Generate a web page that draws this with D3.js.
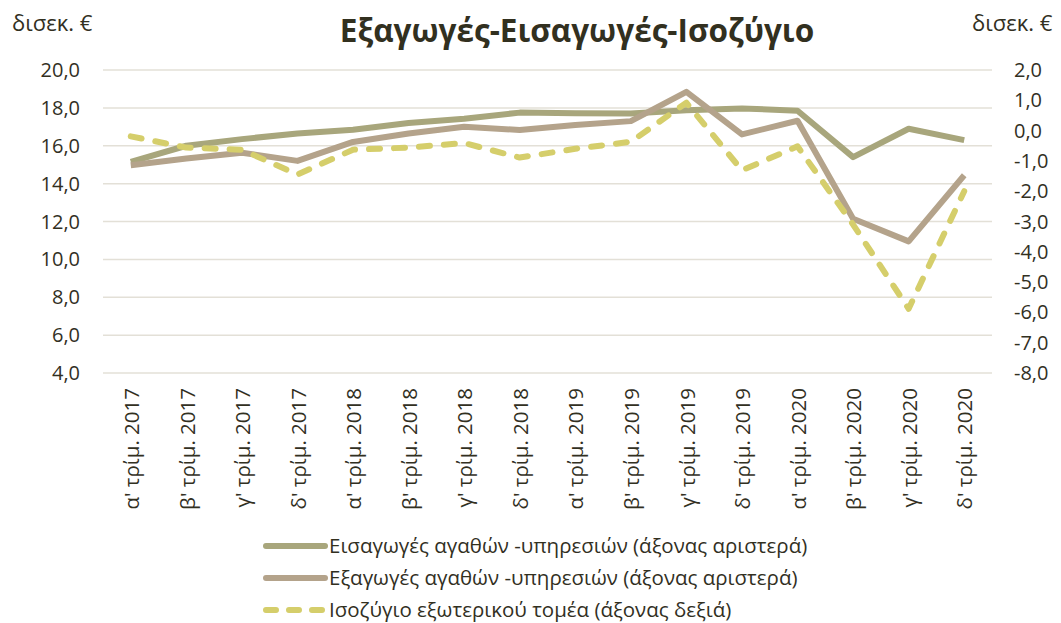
<!DOCTYPE html>
<meta charset="utf-8">
<style>
body { margin: 0; background: #fff; }
text { font-family: "Open Sans", "Noto Sans", sans-serif; fill: #32301f; }
.grid line { stroke: #e3e0d7; stroke-width: 1.5px; }
.line { fill: none; stroke-width: 6px; stroke-linejoin: round; }
</style>
<svg width="1061" height="623"></svg>
<script src="https://cdn.jsdelivr.net/npm/d3@7"></script>
<script>
// data
var quarters = ["α' τρίμ. 2017","β' τρίμ. 2017","γ' τρίμ. 2017","δ' τρίμ. 2017",
  "α' τρίμ. 2018","β' τρίμ. 2018","γ' τρίμ. 2018","δ' τρίμ. 2018",
  "α' τρίμ. 2019","β' τρίμ. 2019","γ' τρίμ. 2019","δ' τρίμ. 2019",
  "α' τρίμ. 2020","β' τρίμ. 2020","γ' τρίμ. 2020","δ' τρίμ. 2020"];
var imports = [15.15, 16.0, 16.35, 16.65, 16.85, 17.2, 17.43, 17.75, 17.72, 17.7, 17.88, 17.97, 17.85, 15.4, 16.9, 16.3];
var exports = [14.97, 15.33, 15.63, 15.2, 16.2, 16.65, 17.0, 16.83, 17.1, 17.3, 18.85, 16.6, 17.32, 12.15, 10.95, 14.44];
var balance = [-0.19, -0.56, -0.63, -1.45, -0.63, -0.56, -0.41, -0.89, -0.6, -0.37, 0.92, -1.31, -0.52, -3.1, -5.88, -2.0];
var leftTicks = [4, 6, 8, 10, 12, 14, 16, 18, 20];
var rightTicks = [-8, -7, -6, -5, -4, -3, -2, -1, 0, 1, 2];
var seriesNames = ["Εισαγωγές αγαθών -υπηρεσιών (άξονας αριστερά)",
  "Εξαγωγές αγαθών -υπηρεσιών (άξονας αριστερά)",
  "Ισοζύγιο εξωτερικού τομέα (άξονας δεξιά)"];
var colors = ["#a8a67c", "#b4a38b", "#d5ce6b"];

var svg = d3.select("svg"),
    plotL = 103, plotR = 992, plotT = 70, plotB = 373;

var x = d3.scaleBand().domain(quarters).range([plotL, plotR]),
    yL = d3.scaleLinear().domain([4, 20]).range([plotB, plotT]),
    yR = d3.scaleLinear().domain([-8, 2]).range([plotB, plotT]);

var fmt = function(v) { return d3.format(".1f")(v).replace(".", ",").replace("−", "-"); };

// grid
svg.append("g").attr("class", "grid")
  .selectAll("line").data(leftTicks).enter().append("line")
    .attr("x1", plotL).attr("x2", plotR)
    .attr("y1", function(d) { return yL(d); })
    .attr("y2", function(d) { return yL(d); });

// left axis labels
svg.append("g").selectAll("text").data(leftTicks).enter().append("text")
  .attr("x", 80).attr("y", function(d) { return yL(d); })
  .attr("dy", "0.35em").attr("text-anchor", "end")
  .style("font-size", "20px")
  .text(fmt);

// right axis labels
svg.append("g").selectAll("text").data(rightTicks).enter().append("text")
  .attr("x", 1014).attr("y", function(d) { return yR(d); })
  .attr("dy", "0.35em").attr("text-anchor", "start")
  .style("font-size", "20px")
  .text(fmt);

// x labels
svg.append("g").selectAll("text").data(quarters).enter().append("text")
  .attr("transform", function(d) { return "translate(" + (x(d) + x.bandwidth() / 2 + 1) + ",388) rotate(-90)"; })
  .attr("dy", "0.35em").attr("text-anchor", "end")
  .style("font-size", "20.5px")
  .text(function(d) { return d; });

// units + title
svg.append("text").attr("x", 12).attr("y", 31).style("font-size", "22px").text("δισεκ. €");
svg.append("text").attr("x", 972).attr("y", 31).style("font-size", "22px").text("δισεκ. €");
svg.append("text").attr("x", 577).attr("y", 42).attr("text-anchor", "middle")
  .style("font-size", "31.5px").style("font-weight", "bold").text("Εξαγωγές-Εισαγωγές-Ισοζύγιο");

// lines
var cx = function(d, i) { return x(quarters[i]) + x.bandwidth() / 2; };
var lineL = d3.line().x(cx).y(function(d) { return yL(d); });
var lineR = d3.line().x(cx).y(function(d) { return yR(d); });

svg.append("path").attr("class", "line").attr("d", lineL(imports)).style("stroke", colors[0]);
svg.append("path").attr("class", "line").attr("d", lineL(exports)).style("stroke", colors[1]);
svg.append("path").attr("class", "line").attr("d", lineR(balance))
  .style("stroke", colors[2]).style("stroke-linecap", "round").style("stroke-dasharray", "11,14");

// legend
var legend = svg.append("g").selectAll("g").data(seriesNames).enter().append("g")
  .attr("transform", function(d, i) { return "translate(266," + (546 + i * 32) + ")"; });
legend.append("line")
  .attr("x1", 0).attr("x2", 59).attr("y1", 0).attr("y2", 0)
  .style("stroke", function(d, i) { return colors[i]; })
  .style("stroke-width", 6).style("stroke-linecap", "round")
  .style("stroke-dasharray", function(d, i) { return i == 2 ? "10,13" : null; });
legend.append("text").attr("x", 63).attr("dy", "0.35em")
  .style("font-size", "20.5px").text(function(d) { return d; });
</script>
